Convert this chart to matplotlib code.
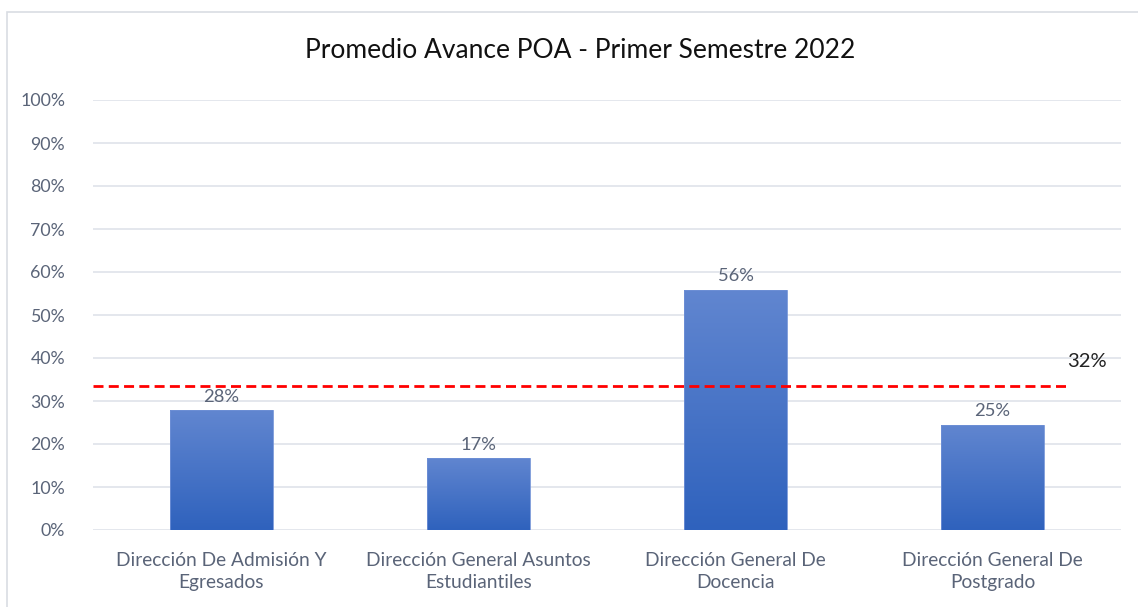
import matplotlib
matplotlib.use("Agg")
import matplotlib.pyplot as plt
import numpy as np
from matplotlib.patches import Rectangle
from matplotlib.colors import LinearSegmentedColormap

categories = ["Dirección De Admisión Y\nEgresados", "Dirección General Asuntos\nEstudiantiles",
              "Dirección General De\nDocencia", "Dirección General De\nPostgrado"]
values = [0.279, 0.168, 0.559, 0.245]
value_labels = ["28%", "17%", "56%", "25%"]
average = 0.335
average_label = "32%"
yticks = [0, 0.1, 0.2, 0.3, 0.4, 0.5, 0.6, 0.7, 0.8, 0.9, 1.0]
ytick_labels = ["0%", "10%", "20%", "30%", "40%", "50%", "60%", "70%", "80%", "90%", "100%"]

plt.rcParams['font.family'] = ['Lato', 'DejaVu Sans']

W, H = 1138, 607
fig = plt.figure(figsize=(W/100, H/100), dpi=100)
fig.patch.set_facecolor("white")
fig.add_artist(Rectangle((7/W, -0.05), 1.2, 1 - 12/H + 0.05, transform=fig.transFigure,
                         fill=False, edgecolor="#d9dde3", linewidth=1.2))

ax = fig.add_axes([93/W, 1-530/H, (1121-93)/W, (530-100)/H])
x = np.arange(len(categories))
bars = ax.bar(x, values, width=0.4, color="none", edgecolor="#6f90d6", linewidth=0.6, zorder=3)
cmap = LinearSegmentedColormap.from_list("g", ["#2f62bd", "#6186d0"])
grad = np.linspace(0, 1, 256).reshape(-1, 1)
for b in bars:
    x0, w, h = b.get_x(), b.get_width(), b.get_height()
    im = ax.imshow(grad, cmap=cmap, extent=[x0, x0 + w, 0, h], origin="lower",
                   aspect="auto", zorder=2)
    im.set_clip_path(b)
for xi, v, lab in zip(x, values, value_labels):
    ax.text(xi, v + 0.012, lab, ha="center", va="bottom", fontsize=13.2, color="#5a6478")

ax.set_xlim(-0.5, len(categories) - 0.5)
ax.set_ylim(0, 1.0)
ax.set_yticks(yticks)
ax.set_yticklabels(ytick_labels, fontsize=12.8, color="#5a6478")
ax.set_xticks(x)
ax.set_xticklabels(categories, fontsize=13.8, color="#5a6478", linespacing=1.35)
ax.tick_params(length=0)
ax.tick_params(axis="x", pad=16)
ax.tick_params(axis="y", pad=20)
ax.grid(axis="y", color="#dfe3ea", linewidth=1.2, zorder=0)
ax.set_axisbelow(True)
for s in ax.spines.values():
    s.set_visible(False)

ax.plot([-0.5, 3.29], [average, average], color="#ff0000", linestyle=(0, (3.6, 1.9)),
        linewidth=2.0, zorder=4)
ax.text(3.368, average + 0.058, average_label, ha="center", va="center", fontsize=14.5, color="#222222")

fig.text(580/W, 1-50/H, "Promedio Avance POA - Primer Semestre 2022", ha="center", va="center",
         fontsize=19, color="#111111")

fig.savefig("out.png", dpi=100)
